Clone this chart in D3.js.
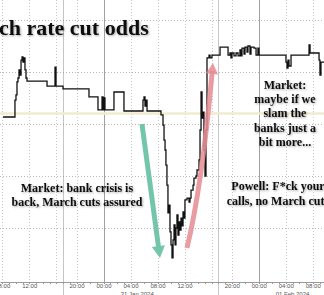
<!DOCTYPE html>
<html>
<head>
<meta charset="utf-8">
<script src="https://cdn.jsdelivr.net/npm/d3@7"></script>
<style>
  body { margin: 0; background: #fff; }
  svg { display: block; }
</style>
</head>
<body>
<div id="chart"></div>
<script>
// observed march implied move (bp), time is New York
const oddsSeries = [
  ["2024-01-30 08:07", -9.73], ["2024-01-30 09:53", -9.08], ["2024-01-30 10:02", -8.88],
  ["2024-01-30 10:11", -8.38], ["2024-01-30 10:20", -8.23], ["2024-01-30 10:29", -7.92],
  ["2024-01-30 10:38", -8.12], ["2024-01-30 10:47", -7.54], ["2024-01-30 10:56", -7.42],
  ["2024-01-30 11:04", -7.62], ["2024-01-30 11:13", -7.46], ["2024-01-30 11:22", -7.92],
  ["2024-01-30 11:31", -8.23], ["2024-01-30 11:40", -8.35], ["2024-01-30 14:38", -8.54],
  ["2024-01-30 15:49", -7.81], ["2024-01-30 15:58", -8.54], ["2024-01-30 18:00", -8.65],
  ["2024-01-30 21:51", -8.96], ["2024-01-30 23:11", -9.46], ["2024-01-30 23:47", -8.96],
  ["2024-01-30 23:56", -9.46], ["2024-01-31 00:04", -9.00], ["2024-01-31 00:13", -9.46],
  ["2024-01-31 01:33", -8.77], ["2024-01-31 03:02", -9.50], ["2024-01-31 05:51", -9.08],
  ["2024-01-31 06:00", -8.96], ["2024-01-31 06:09", -9.31], ["2024-01-31 06:18", -9.08],
  ["2024-01-31 06:27", -9.50], ["2024-01-31 08:31", -9.65], ["2024-01-31 08:49", -10.04],
  ["2024-01-31 08:58", -10.62], ["2024-01-31 09:07", -11.00], ["2024-01-31 09:15", -11.58],
  ["2024-01-31 09:24", -12.35], ["2024-01-31 09:33", -13.42], ["2024-01-31 09:42", -13.12],
  ["2024-01-31 09:51", -14.15], ["2024-01-31 10:00", -14.65], ["2024-01-31 10:09", -15.15],
  ["2024-01-31 10:18", -14.46], ["2024-01-31 10:27", -13.88], ["2024-01-31 10:36", -14.65],
  ["2024-01-31 10:44", -14.00], ["2024-01-31 10:53", -13.50], ["2024-01-31 11:02", -14.27],
  ["2024-01-31 11:11", -13.77], ["2024-01-31 11:20", -14.08], ["2024-01-31 11:29", -13.62],
  ["2024-01-31 11:38", -13.92], ["2024-01-31 11:47", -13.38], ["2024-01-31 11:56", -13.62],
  ["2024-01-31 12:04", -12.92], ["2024-01-31 12:22", -12.85], ["2024-01-31 12:40", -13.00],
  ["2024-01-31 12:49", -12.85], ["2024-01-31 12:58", -12.54], ["2024-01-31 13:16", -12.35],
  ["2024-01-31 13:24", -12.08], ["2024-01-31 13:42", -12.00], ["2024-01-31 13:51", -11.77],
  ["2024-01-31 14:09", -11.38], ["2024-01-31 14:18", -10.23], ["2024-01-31 14:27", -8.77],
  ["2024-01-31 14:36", -9.77], ["2024-01-31 14:44", -9.54], ["2024-01-31 14:53", -11.00],
  ["2024-01-31 15:02", -12.00], ["2024-01-31 15:11", -10.23], ["2024-01-31 15:20", -7.46],
  ["2024-01-31 15:38", -7.35], ["2024-01-31 15:47", -7.46], ["2024-01-31 16:04", -7.35],
  ["2024-01-31 18:16", -7.04], ["2024-01-31 19:27", -7.35], ["2024-01-31 19:44", -7.27],
  ["2024-01-31 19:53", -7.46], ["2024-01-31 20:02", -7.27], ["2024-01-31 20:20", -7.38],
  ["2024-01-31 20:38", -7.27], ["2024-01-31 20:56", -7.38], ["2024-01-31 21:13", -7.15],
  ["2024-01-31 21:22", -7.38], ["2024-01-31 21:31", -7.08], ["2024-01-31 21:49", -7.31],
  ["2024-01-31 21:58", -7.04], ["2024-01-31 22:16", -7.23], ["2024-01-31 22:24", -7.00],
  ["2024-01-31 22:42", -7.31], ["2024-01-31 22:51", -7.04], ["2024-01-31 23:18", -7.08],
  ["2024-01-31 23:36", -7.35], ["2024-01-31 23:53", -7.08], ["2024-02-01 00:02", -7.35],
  ["2024-02-01 04:02", -7.62], ["2024-02-01 04:11", -7.85], ["2024-02-01 04:20", -7.54],
  ["2024-02-01 04:29", -7.77], ["2024-02-01 04:47", -7.35], ["2024-02-01 07:27", -6.96],
  ["2024-02-01 07:36", -7.27], ["2024-02-01 08:56", -7.54], ["2024-02-01 09:04", -8.12],
  ["2024-02-01 09:13", -7.62], ["2024-02-01 09:40", -7.62]
];

// trading halts (removed from the time axis)
const sessionBreaks = [
  ["2024-01-30 17:00", "2024-01-30 18:00"],
  ["2024-01-31 17:00", "2024-01-31 18:00"]
];
const viewRange = ["2024-01-30 07:40", "2024-02-01 09:40"];

const labelTicks = [
  "2024-01-30 08:00", "2024-01-30 12:00", "2024-01-30 20:00", "2024-01-31 00:00",
  "2024-01-31 04:00", "2024-01-31 08:00", "2024-01-31 12:00", "2024-01-31 20:00",
  "2024-02-01 00:00", "2024-02-01 04:00", "2024-02-01 08:00"
];
const gridOnlyTicks = ["2024-01-30 16:00", "2024-01-31 16:00"];
const dayLabels = [
  ["2024-01-30 05:00", "30 Jan 2024"],
  ["2024-01-31 05:00", "31 Jan 2024"],
  ["2024-02-01 05:00", "01 Feb 2024"]
];
const yGridValues = [-6, -8, -10, -12, -14];
const refLevel = -9.6;

// annotations, placed in data space
const bankArrow = { from: ["2024-01-31 05:42", -10.0], to: ["2024-01-31 08:22", -15.15] };
const powellArrow = { from: ["2024-01-31 12:22", -14.77], bend: ["2024-01-31 14:35", -12.4], to: ["2024-01-31 16:13", -7.65] };
const notes = [
  { at: ["2024-01-30 20:04", -12.62], lines: ["Market: bank crisis is", "back, March cuts assured"] },
  { at: ["2024-02-01 03:53", -8.65], lines: ["Market:", "maybe if we", "slam the", "banks just a", "bit more..."] },
  { at: ["2024-02-01 02:51", -12.55], lines: ["Powell: F*ck your", "calls, no March cuts"] }
];

const W = 324, H = 295, axisY = 282;
const pxPerHour = 6.75;
const parse = d3.timeParse("%Y-%m-%d %H:%M");

// piecewise time scale that collapses the session breaks
const dom = [parse(viewRange[0])], rng = [0];
let acc = 0, prev = dom[0];
sessionBreaks.forEach(b => {
  const b0 = parse(b[0]), b1 = parse(b[1]);
  acc += (b0 - prev) / 3.6e6 * pxPerHour;
  dom.push(b0, b1); rng.push(acc, acc);
  prev = b1;
});
const end = parse(viewRange[1]);
dom.push(end); rng.push(acc + (end - prev) / 3.6e6 * pxPerHour);

const x = d3.scaleTime().domain(dom).range(rng);
const y = d3.scaleLinear().domain([-14, -6]).range([228, 20]);

const svg = d3.select("#chart").append("svg")
  .attr("width", W).attr("height", H);

const defs = svg.append("defs");
const f = defs.append("filter").attr("id", "shadow")
  .attr("x", "-10%").attr("y", "-20%").attr("width", "130%").attr("height", "150%");
f.append("feDropShadow").attr("dx", 1).attr("dy", 1).attr("stdDeviation", 1)
  .attr("flood-color", "#000").attr("flood-opacity", 0.35);

// grid
svg.append("g").selectAll("line").data(yGridValues).join("line")
  .attr("x1", 0).attr("x2", W)
  .attr("y1", d => y(d) + 0.5).attr("y2", d => y(d) + 0.5)
  .attr("stroke", "#b8b8b8").attr("stroke-dasharray", "1,2");

const vGrid = labelTicks.concat(gridOnlyTicks).map(parse);
svg.append("g").selectAll("line").data(vGrid).join("line")
  .attr("x1", d => Math.round(x(d)) + 0.5).attr("x2", d => Math.round(x(d)) + 0.5)
  .attr("y1", 0).attr("y2", axisY)
  .attr("stroke", d => d.getHours() === 0 ? "#a0a0a0" : "#c8c8c8")
  .attr("stroke-dasharray", d => d.getHours() === 0 ? null : "1,2");

svg.append("g").selectAll("line").data(sessionBreaks).join("line")
  .attr("x1", d => Math.round(x(parse(d[0]))) + 0.5).attr("x2", d => Math.round(x(parse(d[0]))) + 0.5)
  .attr("y1", 0).attr("y2", H)
  .attr("stroke", "#8c8c8c").attr("stroke-opacity", 0.5);

// reference level
svg.append("line")
  .attr("x1", 0).attr("x2", W)
  .attr("y1", y(refLevel)).attr("y2", y(refLevel))
  .attr("stroke", "#f1ebcf").attr("stroke-width", 2.5);

// x axis
const xAxis = d3.axisBottom(x)
  .tickValues(labelTicks.map(parse))
  .tickFormat(d3.timeFormat("%H:%M"))
  .tickSize(0).tickPadding(1.5);
const ax = svg.append("g").attr("transform", `translate(0,${axisY})`).call(xAxis);
ax.select(".domain").attr("stroke", "#9a9a9a");
ax.selectAll("text").attr("fill", "#555").style("font", "6px 'Liberation Sans', Arial, sans-serif");

const hourTicks = d3.timeHour.range(parse(viewRange[0]), end)
  .filter(d => !sessionBreaks.some(b => d > parse(b[0]) && d < parse(b[1])));
svg.append("g").selectAll("line").data(hourTicks).join("line")
  .attr("x1", d => Math.round(x(d)) + 0.5).attr("x2", d => Math.round(x(d)) + 0.5)
  .attr("y1", axisY).attr("y2", axisY + 2)
  .attr("stroke", "#9a9a9a");

svg.append("g").selectAll("text").data(dayLabels).join("text")
  .attr("x", d => x(parse(d[0]))).attr("y", 295.5)
  .attr("text-anchor", "middle")
  .attr("fill", "#555")
  .style("font", "6px 'Liberation Sans', Arial, sans-serif")
  .text(d => d[1]);

// the series
const line = d3.line()
  .x(d => x(parse(d[0])))
  .y(d => y(d[1]))
  .curve(d3.curveStepAfter);
svg.append("path").datum(oddsSeries)
  .attr("fill", "none").attr("stroke", "#111")
  .attr("stroke-width", 1.3).attr("stroke-linejoin", "miter")
  .attr("d", line);

// arrows
function pt(p) { return [x(parse(p[0])), y(p[1])]; }

function arrowHead(tip, angle, size, color) {
  const a = angle, s = size;
  const left = [tip[0] - s * Math.cos(a) + s * 0.55 * Math.sin(a), tip[1] - s * Math.sin(a) - s * 0.55 * Math.cos(a)];
  const right = [tip[0] - s * Math.cos(a) - s * 0.55 * Math.sin(a), tip[1] - s * Math.sin(a) + s * 0.55 * Math.cos(a)];
  return svg.append("path")
    .attr("d", `M${tip[0]},${tip[1]}L${left[0]},${left[1]}L${right[0]},${right[1]}Z`)
    .attr("fill", color);
}

const ba0 = pt(bankArrow.from), ba1 = pt(bankArrow.to);
const baAng = Math.atan2(ba1[1] - ba0[1], ba1[0] - ba0[0]);
svg.append("line")
  .attr("x1", ba0[0]).attr("y1", ba0[1])
  .attr("x2", ba1[0] - 9 * Math.cos(baAng)).attr("y2", ba1[1] - 9 * Math.sin(baAng))
  .attr("stroke", "#74c6ab").attr("stroke-width", 5);
arrowHead(ba1, baAng, 12, "#74c6ab");

const pa0 = pt(powellArrow.from), pac = pt(powellArrow.bend), pa1 = pt(powellArrow.to);
const paAng = Math.atan2(pa1[1] - pac[1], pa1[0] - pac[0]);
const paEnd = [pa1[0] - 8 * Math.cos(paAng), pa1[1] - 8 * Math.sin(paAng)];
svg.append("path")
  .attr("d", `M${pa0[0]},${pa0[1]}Q${pac[0]},${pac[1]} ${paEnd[0]},${paEnd[1]}`)
  .attr("fill", "none").attr("stroke", "#e58c92").attr("stroke-opacity", 0.85)
  .attr("stroke-width", 5);
arrowHead(pa1, paAng, 11, "#e58c92").attr("fill-opacity", 0.85);

// text
svg.append("text")
  .attr("x", -1).attr("y", 35)
  .attr("filter", "url(#shadow)")
  .style("font", "bold 22px 'Liberation Serif', 'Times New Roman', serif")
  .attr("fill", "#111")
  .text("ch rate cut odds");

notes.forEach(n => {
  const p = pt(n.at);
  const t = svg.append("text")
    .attr("text-anchor", "middle")
    .attr("filter", "url(#shadow)")
    .attr("fill", "#111")
    .style("font", "bold 12px 'Liberation Serif', 'Times New Roman', serif");
  n.lines.forEach((l, i) => {
    t.append("tspan").attr("x", p[0]).attr("y", p[1] + i * 14.2).text(l);
  });
});
</script>
</body>
</html>
